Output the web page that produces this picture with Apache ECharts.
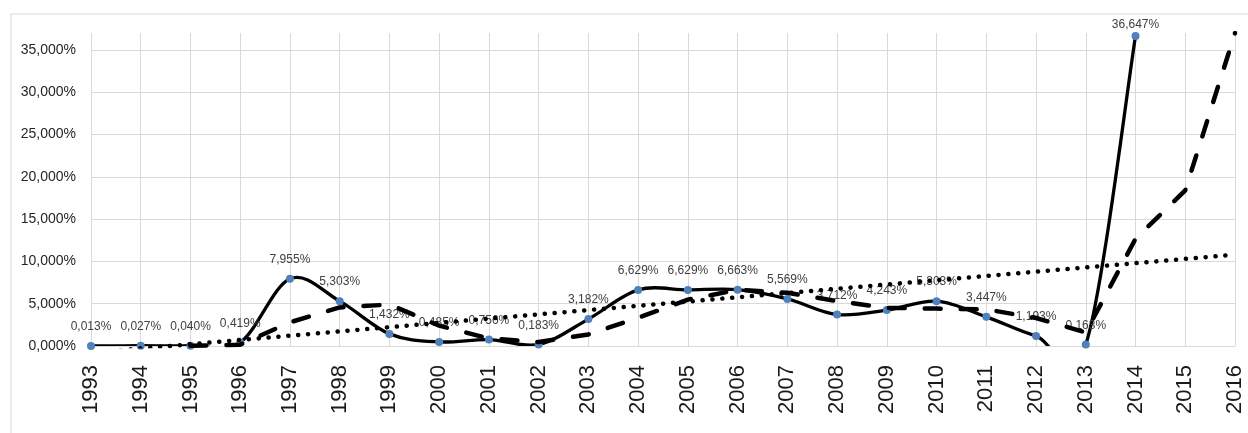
<!DOCTYPE html>
<html>
<head>
<meta charset="utf-8">
<script src="https://cdn.jsdelivr.net/npm/echarts@6/dist/echarts.min.js"></script>
<style>
  html, body { margin: 0; padding: 0; background: #fff; }
  #main { width: 1248px; height: 433px; }
</style>
</head>
<body>
<div id="main"></div>
<script>
// years on the category axis
const years = ['1993', '1994', '1995', '1996', '1997', '1998', '1999', '2000', '2001', '2002', '2003',
  '2004', '2005', '2006', '2007', '2008', '2009', '2010', '2011', '2012', '2013', '2014', '2015', '2016'];

// main series, in percent
const growth = [0.013, 0.027, 0.040, 0.419, 7.955, 5.303, 1.432, 0.485, 0.756, 0.183, 3.182,
  6.629, 6.629, 6.663, 5.569, 3.712, 4.243, 5.303, 3.447, 1.193, 0.163, 36.647, null, null];

// dashed moving average trend
const movingAvg = [null, null, 0.03, 0.16, 2.80, 4.56, 4.90, 2.41, 0.89, 0.47, 1.37,
  3.33, 5.48, 6.64, 6.29, 5.31, 4.51, 4.42, 4.33, 3.31, 1.60, 12.67, 18.4, 37.0];

// dotted linear trend, ends
const linearYears = ['1993', '2016'];
const linearVals = [-0.8, 10.8];

const yTicks = { min: 0, max: 37, step: 5 };

const fmtPct = v => v.toFixed(3).replace('.', ',') + '%';

// index of last real value
const lastIdx = growth.reduce((acc, v, i) => (v == null ? acc : i), 0);

var myChart = echarts.init(document.getElementById('main'));

// excel style smoothed segment i -> i+1 (catmull-rom as bezier)
function renderSegment(params, api) {
  const i = api.value(0);
  const pt = k => {
    const j = Math.max(0, Math.min(lastIdx, k));
    return api.coord([j, growth[j]]);
  };
  const p0 = pt(i - 1), p1 = pt(i), p2 = pt(i + 1), p3 = pt(i + 2);
  return {
    type: 'bezierCurve',
    shape: {
      x1: p1[0], y1: p1[1], x2: p2[0], y2: p2[1],
      cpx1: p1[0] + (p2[0] - p0[0]) / 6, cpy1: p1[1] + (p2[1] - p0[1]) / 6,
      cpx2: p2[0] - (p3[0] - p1[0]) / 6, cpy2: p2[1] - (p3[1] - p1[1]) / 6
    },
    style: { stroke: '#000', lineWidth: 3.3, fill: null, lineCap: 'round' }
  };
}

const option = {
  animation: false,
  backgroundColor: '#fff',
  textStyle: { fontFamily: 'Liberation Sans' },
  graphic: [{
    type: 'rect',
    shape: { x: 11, y: 14, width: 1300, height: 500 },
    style: { fill: 'none', stroke: '#d9d9d9', lineWidth: 1 },
    silent: true
  }],
  grid: { left: 91, right: 13, top: 33, bottom: 87 },
  xAxis: {
    type: 'category',
    data: years,
    boundaryGap: false,
    axisLine: { lineStyle: { color: '#d9d9d9', width: 1 } },
    axisTick: { show: false },
    axisLabel: { rotate: 90, fontSize: 22, color: '#1a1a1a', margin: 19, interval: 0 },
    splitLine: { show: true, interval: 0, lineStyle: { color: '#d9d9d9', width: 1 } }
  },
  yAxis: {
    type: 'value',
    min: yTicks.min,
    max: yTicks.max,
    interval: yTicks.step,
    axisLine: { show: false },
    axisTick: { show: false },
    axisLabel: {
      fontSize: 14, color: '#262626', margin: 15, showMaxLabel: false,
      formatter: v => (v % yTicks.step === 0 ? fmtPct(v) : '')
    },
    splitLine: { show: true, showMaxLine: false, lineStyle: { color: '#d9d9d9', width: 1 } }
  },
  series: [
    {
      name: 'growth curve',
      type: 'custom',
      z: 1,
      clip: true,
      data: growth.map((v, i) => [i]).filter(d => d[0] < lastIdx),
      renderItem: renderSegment
    },
    {
      name: 'growth',
      type: 'scatter',
      z: 2,
      data: growth.map((v, i) => {
        if (years[i] === '2014') return { value: v, label: { distance: 1 } };
        return v;
      }),
      symbol: 'circle',
      symbolSize: 8,
      itemStyle: { color: '#4f81bd', opacity: 1 },
      label: {
        show: true,
        position: 'top',
        distance: 9,
        fontSize: 12,
        color: '#404040',
        formatter: p => (p.value == null ? '' : fmtPct(p.value))
      }
    },
    {
      name: 'moving average',
      type: 'line',
      data: movingAvg,
      z: 3,
      symbol: 'none',
      lineStyle: { color: '#000', width: 4.5, type: [16, 20], cap: 'round' }
    },
    {
      name: 'linear',
      type: 'line',
      data: linearYears.map((y, i) => [y, linearVals[i]]),
      z: 3,
      symbol: 'none',
      clip: true,
      lineStyle: { color: '#000', width: 4.5, type: [0.1, 9.8], cap: 'round' }
    }
  ]
};

myChart.setOption(option);
</script>
</body>
</html>
